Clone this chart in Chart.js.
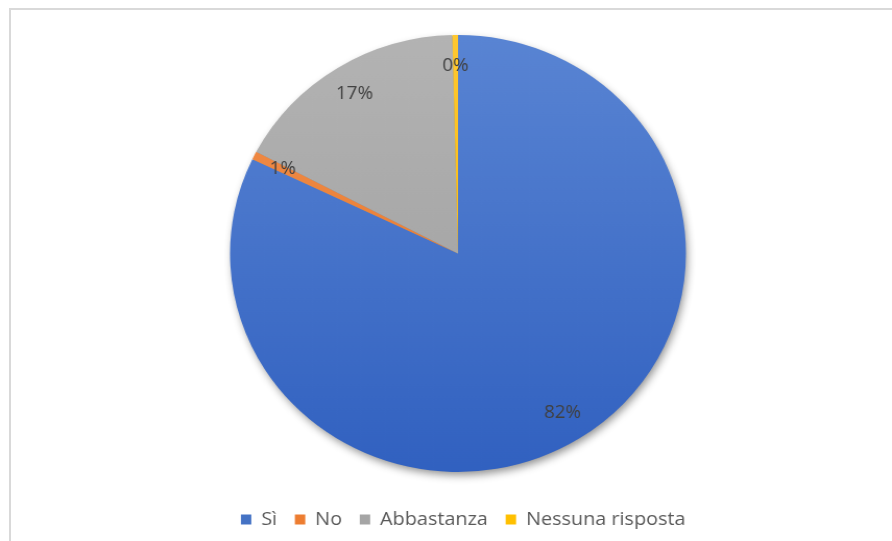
<!DOCTYPE html>
<html>
<head>
<meta charset="utf-8">
<script src="https://cdn.jsdelivr.net/npm/chart.js@4/dist/chart.umd.min.js"></script>
<style>
  html, body { margin: 0; padding: 0; background: #fff; overflow: hidden; }
  #wrap { position: relative; width: 892px; height: 541px; }
  #frame { position: absolute; left: 9px; top: 8px; width: 900px; height: 600px;
           border-top: 2px solid #d9d9d9; border-left: 2px solid #d9d9d9; pointer-events: none; }
  canvas { position: absolute; left: 0; top: 0; }
</style>
</head>
<body>
<div id="wrap">
  <canvas id="c" width="855" height="541" style="width:892px;height:541px"></canvas>
  <div id="frame"></div>
</div>
<script>
const categories = ['Sì', 'No', 'Abbastanza', 'Nessuna risposta'];
const values = [82.1, 0.6, 16.9, 0.4];
const colorsTop = ['#5b86d4', '#f4914f', '#b3b3b3', '#ffc830'];
const colorsBottom = ['#2f5fbf', '#e06f20', '#9c9c9c', '#f0b000'];
const legendColors = ['#4472c4', '#ed7d31', '#a5a5a5', '#ffc000'];

const FONT = "'Open Sans', 'Noto Sans', sans-serif";

function sliceFill(ctx) {
  const i = ctx.dataIndex;
  const chart = ctx.chart;
  const area = chart.chartArea;
  if (!area || i === undefined) return colorsTop[i || 0];
  const el = chart.getDatasetMeta(0).data[0];
  let y0 = area.top, y1 = area.bottom;
  if (el && el.outerRadius) { y0 = el.y - el.outerRadius; y1 = el.y + el.outerRadius; }
  const g = chart.ctx.createLinearGradient(0, y0, 0, y1);
  g.addColorStop(0, colorsTop[i]);
  g.addColorStop(1, colorsBottom[i]);
  return g;
}

const shadowPlugin = {
  id: 'pieShadow',
  beforeDatasetsDraw(chart) {
    const el = chart.getDatasetMeta(0).data[0];
    if (!el) return;
    const c = chart.ctx;
    c.save();
    c.shadowColor = 'rgba(0,0,0,0.45)';
    c.shadowBlur = 9;
    c.shadowOffsetX = 2;
    c.shadowOffsetY = 4;
    c.fillStyle = '#888';
    c.beginPath();
    c.arc(el.x, el.y, el.outerRadius - 1, 0, Math.PI * 2);
    c.fill();
    c.restore();
  }
};

const legendShift = {
  id: 'legendShift',
  afterLayout(chart) {
    if (chart.legend) { chart.legend.left += 5; chart.legend.right += 5; }
  }
};

const labelPlugin = {
  id: 'pctLabels',
  afterDatasetsDraw(chart) {
    const meta = chart.getDatasetMeta(0);
    const data = chart.data.datasets[0].data;
    const total = data.reduce((a, b) => a + b, 0);
    const c = chart.ctx;
    c.save();
    c.font = "18px " + FONT;
    c.fillStyle = '#404040';
    c.textAlign = 'center';
    c.textBaseline = 'middle';
    meta.data.forEach((el, i) => {
      const mid = (el.startAngle + el.endAngle) / 2;
      const r = el.outerRadius * 0.86;
      const x = el.x + Math.cos(mid) * r;
      const y = el.y + Math.sin(mid) * r;
      c.fillText(Math.round(data[i] / total * 100) + '%', x, y);
    });
    c.restore();
  }
};

new Chart(document.getElementById('c'), {
  type: 'pie',
  data: {
    labels: categories,
    datasets: [{
      data: values,
      backgroundColor: sliceFill,
      borderWidth: 0,
      radius: 218.5
    }]
  },
  options: {
    responsive: false,
    animation: false,
    layout: { padding: { left: 23, right: 0, top: 14, bottom: 2 } },
    plugins: {
      tooltip: { enabled: false },
      legend: {
        position: 'bottom',
        labels: {
          boxWidth: 10,
          boxHeight: 10,
          padding: 17,
          color: '#595959',
          font: { family: FONT, size: 19 },
          generateLabels(chart) {
            return categories.map((t, i) => ({
              text: t, fillStyle: legendColors[i], strokeStyle: legendColors[i],
              lineWidth: 0, hidden: false, index: i, fontColor: '#595959'
            }));
          }
        }
      }
    }
  },
  plugins: [shadowPlugin, legendShift, labelPlugin]
});
</script>
</body>
</html>
